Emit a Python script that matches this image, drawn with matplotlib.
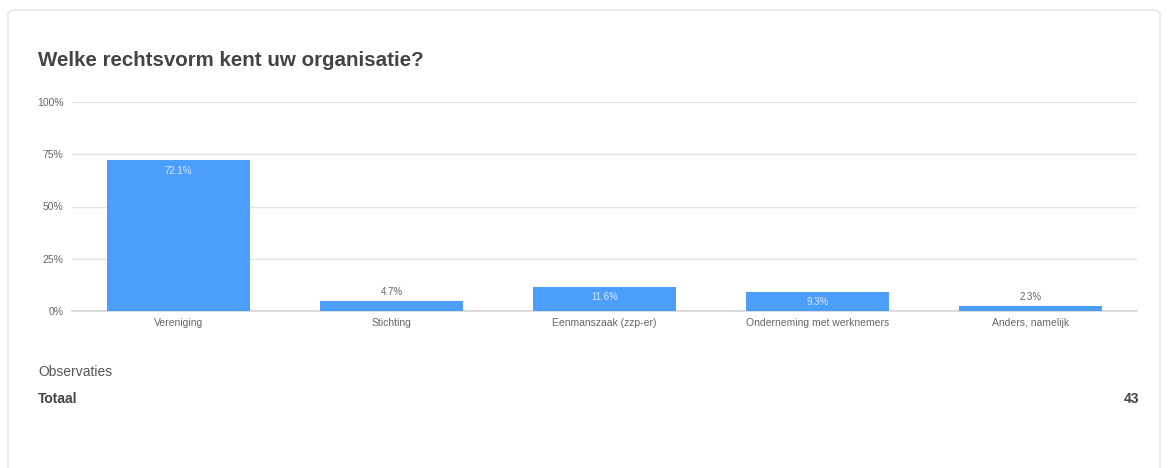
import numpy as np
import matplotlib.pyplot as plt
from matplotlib.patches import FancyBboxPatch

plt.rcParams['font.family'] = ['Liberation Sans', 'DejaVu Sans']

categories = ['Vereniging', 'Stichting', 'Eenmanszaak (zzp-er)',
              'Onderneming met werknemers', 'Anders, namelijk']
values = [72.1, 4.7, 11.6, 9.3, 2.3]
yticks = [0, 25, 50, 75, 100]
total = 43

W, H = 1169, 468
fig = plt.figure(figsize=(W / 100, H / 100), dpi=100)
fig.patch.set_facecolor('white')

# card border, drawn behind the axes
card = FancyBboxPatch((8 / W, -20 / H), (1152 / W), (478 / H),
                      boxstyle='round,pad=0,rounding_size=0.008',
                      transform=fig.transFigure, facecolor='white',
                      edgecolor='#e3e3e3', linewidth=1.0, zorder=-5)
fig.patches.append(card)

ax = fig.add_axes([72 / W, (H - 311) / H, (1137 - 72) / W, (311 - 102) / H])
ax.set_zorder(2)
ax.patch.set_alpha(0)
x = np.arange(len(categories))
bars = ax.bar(x, values, width=0.667, color='#4b9efc', zorder=3)

ax.set_xlim(-0.5, len(categories) - 0.5)
ax.set_ylim(0, 100)
ax.set_yticks(yticks)
ax.set_yticklabels([f'{t}%' for t in yticks])
ax.set_xticks(x)
ax.set_xticklabels(categories)
ax.tick_params(axis='both', length=0, labelsize=7.5, labelcolor='#666666')
ax.tick_params(axis='x', pad=5)
ax.tick_params(axis='y', pad=6)
ax.grid(axis='y', color='#e2e2e2', linewidth=1, zorder=0)
ax.axhline(0, color='#d4d4d4', linewidth=1.2, zorder=2, clip_on=False)
for s in ax.spines.values():
    s.set_visible(False)

for bar, v in zip(bars, values):
    cx = bar.get_x() + bar.get_width() / 2
    label = f'{v:.1f}%'
    if v > 8:
        ax.annotate(label, (cx, v), xytext=(0, -4), textcoords='offset points',
                    ha='center', va='top', fontsize=7, color='#dbeaff')
    else:
        ax.annotate(label, (cx, v), xytext=(0, 3), textcoords='offset points',
                    ha='center', va='bottom', fontsize=7, color='#666666')

fig.text(38 / W, 1 - 60 / H, 'Welke rechtsvorm kent uw organisatie?',
         fontsize=14.8, fontweight='bold', color='#444444', va='center')
fig.text(38 / W, 1 - 372 / H, 'Observaties', fontsize=10, color='#555555', va='center')
fig.text(38 / W, 1 - 399 / H, 'Totaal', fontsize=10, fontweight='bold',
         color='#444444', va='center')
fig.text(1139 / W, 1 - 399 / H, str(total), fontsize=10, fontweight='bold',
         color='#444444', va='center', ha='right')

plt.savefig('out.png', dpi=100)
